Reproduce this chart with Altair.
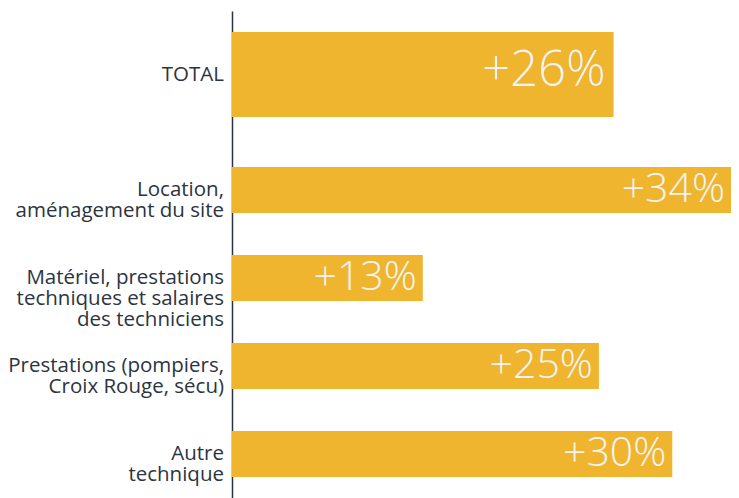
import altair as alt
import pandas as pd

categories = [
    "TOTAL",
    "Location,\naménagement du site",
    "Matériel, prestations\ntechniques et salaires\ndes techniciens",
    "Prestations (pompiers,\nCroix Rouge, sécu)",
    "Autre\ntechnique",
]
values = [26, 34, 13, 25, 30]
value_labels = ["+26%", "+34%", "+13%", "+25%", "+30%"]
is_total = [True, False, False, False, False]

df = pd.DataFrame({"cat": categories, "value": values, "label": value_labels, "total": is_total})

BAR = "#F0B52E"
DARK = "#2B3440"
FONT = "Open Sans"

y_enc = alt.Y("cat:N", sort=categories,
              scale=alt.Scale(paddingInner=0.477, paddingOuter=0.773),
              axis=alt.Axis(labels=False, ticks=False, title=None, domainColor=DARK, domainWidth=1.5))
x_enc = alt.X("value:Q", scale=alt.Scale(domain=[0, 34], nice=False), axis=None)

base = alt.Chart(df)
rest = base.transform_filter("!datum.total")
tot = base.transform_filter("datum.total")

OFF = -27.5

bars_rest = rest.mark_bar(color=BAR, size=46).encode(x=x_enc, y=y_enc)
bars_tot = tot.mark_bar(color=BAR, size=85, yOffset=OFF).encode(x=x_enc, y=y_enc)

vals_rest = rest.mark_text(align="right", baseline="middle", dx=-6, font=FONT, fontSize=41,
                           fontWeight=300, color="#F3F3F3").encode(x=x_enc, y=y_enc, text="label:N")
vals_tot = tot.mark_text(align="right", baseline="middle", dx=-8, dy=-4, font=FONT, fontSize=49,
                         fontWeight=300, color="#F3F3F3", yOffset=OFF).encode(x=x_enc, y=y_enc, text="label:N")

cat_rest = rest.mark_text(align="right", baseline="middle", lineBreak="\n", lineHeight=21,
                          font=FONT, fontSize=20.5, color=DARK).encode(x=alt.value(-8), y=y_enc, text="cat:N")
cat_tot = tot.mark_text(align="right", baseline="middle", font=FONT, fontSize=20.5, color=DARK,
                        yOffset=OFF).encode(x=alt.value(-8), y=y_enc, text="cat:N")

chart = alt.layer(bars_rest, bars_tot, vals_rest, vals_tot, cat_rest, cat_tot).properties(
    width=499, height=534,
    autosize=alt.AutoSizeParams(type="none"),
    padding={"left": 224, "top": 3, "right": 0, "bottom": 0},
).configure_view(stroke=None)

chart.save("out.html", embed_options={"renderer": "svg", "actions": False})
